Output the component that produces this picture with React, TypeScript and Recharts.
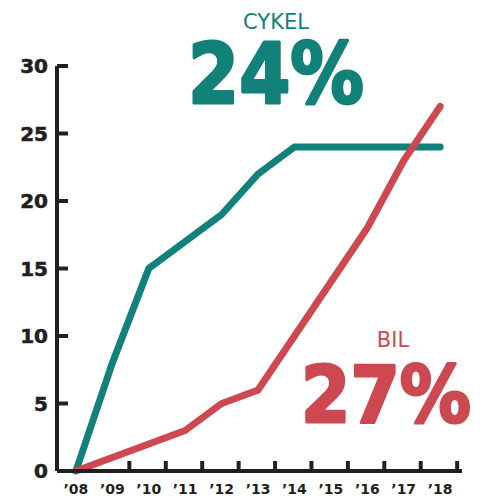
import React from 'react';
import { LineChart, Line, XAxis, YAxis } from 'recharts';

const years = ['’08', '’09', '’10', '’11', '’12', '’13', '’14', '’15', '’16', '’17', '’18'];
const cykel = [0, 8, 15, 17, 19, 22, 24, 24, 24, 24, 24];
const bil = [0, 1, 2, 3, 5, 6, 10, 14, 18, 23, 27];
const yTicks = [0, 5, 10, 15, 20, 25, 30];

const TEAL = '#12817a';
const RED = '#cd4850';
const INK = '#231f20';

const data = years.map((y, i) => ({ i, year: y, cykel: cykel[i], bil: bil[i] }));

const YTick = (props: any) => {
  const { x, y, payload } = props;
  return (
    <g>
      <line x1={x} x2={x + 11} y1={y} y2={y} stroke={INK} strokeWidth={4} />
      <text
        x={x - 9}
        y={y}
        dy="0.36em"
        textAnchor="end"
        fontFamily="'DejaVu Sans', sans-serif"
        fontWeight="bold"
        fontSize={20}
        fill={INK}
        stroke={INK}
        strokeWidth={0.6}
      >
        {payload.value}
      </text>
    </g>
  );
};

const XTick = (props: any) => {
  const { x, y, payload } = props;
  return (
    <g>
      {payload.value > 0 && (
        <line x1={x + 17} x2={x + 17} y1={y} y2={y - 10} stroke={INK} strokeWidth={4} />
      )}
      <text
        x={x}
        y={y + 23}
        textAnchor="middle"
        fontFamily="'DejaVu Sans', sans-serif"
        fontWeight="bold"
        fontSize={14}
        fill={INK}
      >
        {years[payload.value]}
      </text>
    </g>
  );
};

export default function App() {
  return (
    <div style={{ position: 'absolute', left: 0, top: 0, width: 482, height: 499, background: '#fff' }}>
      <LineChart width={482} height={499} data={data} margin={{ top: 66, right: 20, bottom: 0, left: 0 }}>
        <XAxis
          dataKey="i"
          type="number"
          domain={[-0.52, 10.6]}
          ticks={data.map((d) => d.i)}
          allowDataOverflow
          height={28}
          tickSize={0}
          tickMargin={0}
          tickLine={false}
          axisLine={{ stroke: INK, strokeWidth: 4 }}
          tick={<XTick />}
          interval={0}
        />
        <YAxis
          type="number"
          domain={[0, 30]}
          ticks={yTicks}
          width={57}
          tickSize={0}
          tickMargin={0}
          tickLine={false}
          axisLine={{ stroke: INK, strokeWidth: 4 }}
          tick={<YTick />}
          interval={0}
        />
        <Line
          dataKey="cykel"
          stroke={TEAL}
          strokeWidth={7}
          strokeLinecap="round"
          dot={false}
          activeDot={false}
          isAnimationActive={false}
        />
        <Line
          dataKey="bil"
          stroke={RED}
          strokeWidth={7}
          strokeLinecap="round"
          dot={false}
          activeDot={false}
          isAnimationActive={false}
        />
      </LineChart>
      <svg
        width={482}
        height={499}
        style={{ position: 'absolute', left: 0, top: 0, pointerEvents: 'none' }}
      >
        <text x={276} y={29} textAnchor="middle" fontFamily="'DejaVu Sans', sans-serif" fontSize={21} fill={TEAL}>
          CYKEL
        </text>
        <text
          x={188}
          y={103}
          textLength={176}
          lengthAdjust="spacingAndGlyphs"
          fontFamily="'DejaVu Sans', sans-serif"
          fontWeight="bold"
          fontSize={83}
          fill={TEAL}
          stroke={TEAL}
          strokeWidth={3}
          strokeLinejoin="round"
        >
          24%
        </text>
        <text x={393} y={347} textAnchor="middle" fontFamily="'DejaVu Sans', sans-serif" fontSize={21} fill={RED}>
          BIL
        </text>
        <text
          x={301}
          y={422}
          textLength={170}
          lengthAdjust="spacingAndGlyphs"
          fontFamily="'DejaVu Sans', sans-serif"
          fontWeight="bold"
          fontSize={78}
          fill={RED}
          stroke={RED}
          strokeWidth={3}
          strokeLinejoin="round"
        >
          27%
        </text>
      </svg>
    </div>
  );
}
